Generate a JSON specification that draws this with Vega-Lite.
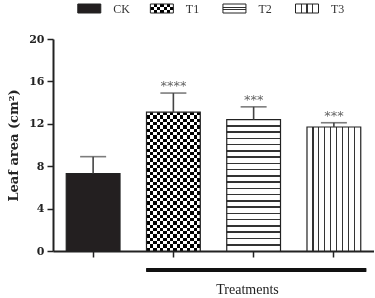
{
  "$schema": "https://vega.github.io/schema/vega-lite/v6.json",
  "background": "white",
  "padding": {"left": 7, "top": 2, "right": 0, "bottom": 0},
  "spacing": 18,
  "data": {"values": [
    {"group": "CK", "value": 7.3, "upper": 8.9, "sig": ""},
    {"group": "T1", "value": 13.1, "upper": 14.9, "sig": "****"},
    {"group": "T2", "value": 12.4, "upper": 13.6, "sig": "***"},
    {"group": "T3", "value": 11.7, "upper": 12.1, "sig": "***"}
  ]},
  "config": {"view": {"stroke": null}},
  "vconcat": [
    {
      "width": 321,
      "height": 9,
      "encoding": {
        "x": {"field": "group", "type": "nominal", "axis": null,
              "scale": {"domain": ["CK", "T1", "T2", "T3"], "paddingInner": 0, "paddingOuter": 0.2115, "align": 0}}
      },
      "layer": [
        {"transform": [{"filter": "datum.group == 'CK'"}],
         "mark": {"type": "bar", "width": 23, "fill": "#231f20", "strokeWidth": 0}},
        {"transform": [{"filter": "datum.group == 'T1'"}],
         "mark": {"type": "bar", "width": 23, "strokeWidth": 0, "fill": {"gradient": "linear", "x1": 0, "y1": 0, "x2": 1, "y2": 0, "stops": [
           {"offset": 0, "color": "#fff"}, {"offset": 0.1429, "color": "#fff"}, {"offset": 0.1429, "color": "#000"}, {"offset": 0.2857, "color": "#000"},
           {"offset": 0.2857, "color": "#fff"}, {"offset": 0.4286, "color": "#fff"}, {"offset": 0.4286, "color": "#000"}, {"offset": 0.5714, "color": "#000"},
           {"offset": 0.5714, "color": "#fff"}, {"offset": 0.7143, "color": "#fff"}, {"offset": 0.7143, "color": "#000"}, {"offset": 0.8571, "color": "#000"},
           {"offset": 0.8571, "color": "#fff"}, {"offset": 1, "color": "#fff"}]}}},
        {"transform": [{"filter": "datum.group == 'T1'"}],
         "mark": {"type": "bar", "width": 23, "strokeWidth": 0, "blend": "difference", "fill": {"gradient": "linear", "x1": 0, "y1": 0, "x2": 0, "y2": 1, "stops": [
           {"offset": 0, "color": "#000"}, {"offset": 0.3333, "color": "#000"}, {"offset": 0.3333, "color": "#fff"}, {"offset": 0.6667, "color": "#fff"},
           {"offset": 0.6667, "color": "#000"}, {"offset": 1, "color": "#000"}]}}},
        {"transform": [{"filter": "datum.group == 'T2'"}],
         "mark": {"type": "bar", "width": 23, "strokeWidth": 0, "fill": {"gradient": "linear", "x1": 0, "y1": 0, "x2": 0, "y2": 1, "stops": [
           {"offset": 0, "color": "#fff"}, {"offset": 0.32, "color": "#fff"}, {"offset": 0.32, "color": "#333"}, {"offset": 0.44, "color": "#333"},
           {"offset": 0.44, "color": "#fff"}, {"offset": 0.56, "color": "#fff"}, {"offset": 0.56, "color": "#333"}, {"offset": 0.68, "color": "#333"},
           {"offset": 0.68, "color": "#fff"}, {"offset": 1, "color": "#fff"}]}}},
        {"transform": [{"filter": "datum.group == 'T3'"}],
         "mark": {"type": "bar", "width": 23, "strokeWidth": 0, "fill": {"gradient": "linear", "x1": 0, "y1": 0, "x2": 1, "y2": 0, "stops": [
           {"offset": 0, "color": "#fff"}, {"offset": 0.225, "color": "#fff"}, {"offset": 0.225, "color": "#333"}, {"offset": 0.275, "color": "#333"},
           {"offset": 0.275, "color": "#fff"}, {"offset": 0.475, "color": "#fff"}, {"offset": 0.475, "color": "#333"}, {"offset": 0.525, "color": "#333"},
           {"offset": 0.525, "color": "#fff"}, {"offset": 0.725, "color": "#fff"}, {"offset": 0.725, "color": "#333"}, {"offset": 0.775, "color": "#333"},
           {"offset": 0.775, "color": "#fff"}, {"offset": 1, "color": "#fff"}]}}},
        {"mark": {"type": "bar", "width": 23, "fillOpacity": 0, "stroke": "#222", "strokeWidth": 1}},
        {"mark": {"type": "text", "align": "left", "baseline": "middle", "dx": 24, "font": "Liberation Serif", "fontSize": 12, "color": "#333"},
         "encoding": {"text": {"field": "group"}}}
      ]
    },
    {
      "width": 321,
      "height": 212,
      "encoding": {
        "x": {"field": "group", "type": "nominal",
              "scale": {"domain": ["CK", "T1", "T2", "T3"], "paddingInner": 0.33, "paddingOuter": 0.165},
              "axis": {"labels": false, "ticks": true, "tickSize": 6, "tickWidth": 1.5, "tickColor": "#222",
                       "domainWidth": 2, "domainColor": "#222", "title": "Treatments",
                       "titleFont": "Liberation Serif", "titleFontWeight": "normal", "titleFontSize": 14, "titleColor": "#222",
                       "titleX": 194, "titleY": 38, "titleBaseline": "middle", "titleAlign": "center", "titleAnchor": null}}
      },
      "layer": [
        {"transform": [{"filter": "datum.group == 'CK'"}],
         "mark": {"type": "bar", "fill": "#231f20", "strokeWidth": 0},
         "encoding": {"y": {"field": "value", "type": "quantitative",
           "scale": {"domain": [0, 20], "nice": false},
           "axis": {"values": [0, 2, 4, 6, 8, 10, 12, 14, 16, 18, 20], "labelExpr": "datum.value % 4 == 0 ? datum.label : ''",
                    "grid": false, "tickSize": 6, "tickWidth": 1.5, "tickColor": "#222", "domainWidth": 2, "domainColor": "#222",
                    "labelFont": "DejaVu Serif", "labelFontWeight": "bold", "labelFontSize": 11, "labelColor": "#222", "labelPadding": 3,
                    "title": "Leaf area (cm²)", "titleFont": "DejaVu Serif", "titleFontWeight": "bold", "titleFontSize": 13,
                    "titleColor": "#222", "titlePadding": 8}}}},
        {"transform": [{"filter": "datum.group == 'T1'"}],
         "mark": {"type": "bar", "strokeWidth": 0, "fill": {"gradient": "linear", "x1": 0, "y1": 0, "x2": 1, "y2": 0, "stops": [
           {"offset": 0, "color": "#fff"}, {"offset": 0.0625, "color": "#fff"}, {"offset": 0.0625, "color": "#000"}, {"offset": 0.125, "color": "#000"},
           {"offset": 0.125, "color": "#fff"}, {"offset": 0.1875, "color": "#fff"}, {"offset": 0.1875, "color": "#000"}, {"offset": 0.25, "color": "#000"},
           {"offset": 0.25, "color": "#fff"}, {"offset": 0.3125, "color": "#fff"}, {"offset": 0.3125, "color": "#000"}, {"offset": 0.375, "color": "#000"},
           {"offset": 0.375, "color": "#fff"}, {"offset": 0.4375, "color": "#fff"}, {"offset": 0.4375, "color": "#000"}, {"offset": 0.5, "color": "#000"},
           {"offset": 0.5, "color": "#fff"}, {"offset": 0.5625, "color": "#fff"}, {"offset": 0.5625, "color": "#000"}, {"offset": 0.625, "color": "#000"},
           {"offset": 0.625, "color": "#fff"}, {"offset": 0.6875, "color": "#fff"}, {"offset": 0.6875, "color": "#000"}, {"offset": 0.75, "color": "#000"},
           {"offset": 0.75, "color": "#fff"}, {"offset": 0.8125, "color": "#fff"}, {"offset": 0.8125, "color": "#000"}, {"offset": 0.875, "color": "#000"},
           {"offset": 0.875, "color": "#fff"}, {"offset": 0.9375, "color": "#fff"}, {"offset": 0.9375, "color": "#000"}, {"offset": 1, "color": "#000"}]}},
         "encoding": {"y": {"field": "value", "type": "quantitative"}}},
        {"transform": [{"filter": "datum.group == 'T1'"}],
         "mark": {"type": "bar", "strokeWidth": 0, "blend": "difference", "fill": {"gradient": "linear", "x1": 0, "y1": 0, "x2": 0, "y2": 1, "stops": [
           {"offset": 0, "color": "#000"}, {"offset": 0.0238, "color": "#000"}, {"offset": 0.0238, "color": "#fff"}, {"offset": 0.0476, "color": "#fff"},
           {"offset": 0.0476, "color": "#000"}, {"offset": 0.0714, "color": "#000"}, {"offset": 0.0714, "color": "#fff"}, {"offset": 0.0952, "color": "#fff"},
           {"offset": 0.0952, "color": "#000"}, {"offset": 0.1190, "color": "#000"}, {"offset": 0.1190, "color": "#fff"}, {"offset": 0.1429, "color": "#fff"},
           {"offset": 0.1429, "color": "#000"}, {"offset": 0.1667, "color": "#000"}, {"offset": 0.1667, "color": "#fff"}, {"offset": 0.1905, "color": "#fff"},
           {"offset": 0.1905, "color": "#000"}, {"offset": 0.2143, "color": "#000"}, {"offset": 0.2143, "color": "#fff"}, {"offset": 0.2381, "color": "#fff"},
           {"offset": 0.2381, "color": "#000"}, {"offset": 0.2619, "color": "#000"}, {"offset": 0.2619, "color": "#fff"}, {"offset": 0.2857, "color": "#fff"},
           {"offset": 0.2857, "color": "#000"}, {"offset": 0.3095, "color": "#000"}, {"offset": 0.3095, "color": "#fff"}, {"offset": 0.3333, "color": "#fff"},
           {"offset": 0.3333, "color": "#000"}, {"offset": 0.3571, "color": "#000"}, {"offset": 0.3571, "color": "#fff"}, {"offset": 0.3810, "color": "#fff"},
           {"offset": 0.3810, "color": "#000"}, {"offset": 0.4048, "color": "#000"}, {"offset": 0.4048, "color": "#fff"}, {"offset": 0.4286, "color": "#fff"},
           {"offset": 0.4286, "color": "#000"}, {"offset": 0.4524, "color": "#000"}, {"offset": 0.4524, "color": "#fff"}, {"offset": 0.4762, "color": "#fff"},
           {"offset": 0.4762, "color": "#000"}, {"offset": 0.5, "color": "#000"}, {"offset": 0.5, "color": "#fff"}, {"offset": 0.5238, "color": "#fff"},
           {"offset": 0.5238, "color": "#000"}, {"offset": 0.5476, "color": "#000"}, {"offset": 0.5476, "color": "#fff"}, {"offset": 0.5714, "color": "#fff"},
           {"offset": 0.5714, "color": "#000"}, {"offset": 0.5952, "color": "#000"}, {"offset": 0.5952, "color": "#fff"}, {"offset": 0.6190, "color": "#fff"},
           {"offset": 0.6190, "color": "#000"}, {"offset": 0.6429, "color": "#000"}, {"offset": 0.6429, "color": "#fff"}, {"offset": 0.6667, "color": "#fff"},
           {"offset": 0.6667, "color": "#000"}, {"offset": 0.6905, "color": "#000"}, {"offset": 0.6905, "color": "#fff"}, {"offset": 0.7143, "color": "#fff"},
           {"offset": 0.7143, "color": "#000"}, {"offset": 0.7381, "color": "#000"}, {"offset": 0.7381, "color": "#fff"}, {"offset": 0.7619, "color": "#fff"},
           {"offset": 0.7619, "color": "#000"}, {"offset": 0.7857, "color": "#000"}, {"offset": 0.7857, "color": "#fff"}, {"offset": 0.8095, "color": "#fff"},
           {"offset": 0.8095, "color": "#000"}, {"offset": 0.8333, "color": "#000"}, {"offset": 0.8333, "color": "#fff"}, {"offset": 0.8571, "color": "#fff"},
           {"offset": 0.8571, "color": "#000"}, {"offset": 0.8810, "color": "#000"}, {"offset": 0.8810, "color": "#fff"}, {"offset": 0.9048, "color": "#fff"},
           {"offset": 0.9048, "color": "#000"}, {"offset": 0.9286, "color": "#000"}, {"offset": 0.9286, "color": "#fff"}, {"offset": 0.9524, "color": "#fff"},
           {"offset": 0.9524, "color": "#000"}, {"offset": 0.9762, "color": "#000"}, {"offset": 0.9762, "color": "#fff"}, {"offset": 1, "color": "#fff"}]}},
         "encoding": {"y": {"field": "value", "type": "quantitative"}}},
        {"transform": [{"filter": "datum.group == 'T2'"}],
         "mark": {"type": "bar", "strokeWidth": 0, "fill": {"gradient": "linear", "x1": 0, "y1": 0, "x2": 0, "y2": 1, "stops": [
           {"offset": 0, "color": "#fff"},
           {"offset": 0.0416, "color": "#fff"}, {"offset": 0.0416, "color": "#333"}, {"offset": 0.0536, "color": "#333"}, {"offset": 0.0536, "color": "#fff"},
           {"offset": 0.0892, "color": "#fff"}, {"offset": 0.0892, "color": "#333"}, {"offset": 0.1012, "color": "#333"}, {"offset": 0.1012, "color": "#fff"},
           {"offset": 0.1369, "color": "#fff"}, {"offset": 0.1369, "color": "#333"}, {"offset": 0.1489, "color": "#333"}, {"offset": 0.1489, "color": "#fff"},
           {"offset": 0.1845, "color": "#fff"}, {"offset": 0.1845, "color": "#333"}, {"offset": 0.1965, "color": "#333"}, {"offset": 0.1965, "color": "#fff"},
           {"offset": 0.2321, "color": "#fff"}, {"offset": 0.2321, "color": "#333"}, {"offset": 0.2441, "color": "#333"}, {"offset": 0.2441, "color": "#fff"},
           {"offset": 0.2797, "color": "#fff"}, {"offset": 0.2797, "color": "#333"}, {"offset": 0.2917, "color": "#333"}, {"offset": 0.2917, "color": "#fff"},
           {"offset": 0.3273, "color": "#fff"}, {"offset": 0.3273, "color": "#333"}, {"offset": 0.3393, "color": "#333"}, {"offset": 0.3393, "color": "#fff"},
           {"offset": 0.3750, "color": "#fff"}, {"offset": 0.3750, "color": "#333"}, {"offset": 0.3870, "color": "#333"}, {"offset": 0.3870, "color": "#fff"},
           {"offset": 0.4226, "color": "#fff"}, {"offset": 0.4226, "color": "#333"}, {"offset": 0.4346, "color": "#333"}, {"offset": 0.4346, "color": "#fff"},
           {"offset": 0.4702, "color": "#fff"}, {"offset": 0.4702, "color": "#333"}, {"offset": 0.4822, "color": "#333"}, {"offset": 0.4822, "color": "#fff"},
           {"offset": 0.5178, "color": "#fff"}, {"offset": 0.5178, "color": "#333"}, {"offset": 0.5298, "color": "#333"}, {"offset": 0.5298, "color": "#fff"},
           {"offset": 0.5654, "color": "#fff"}, {"offset": 0.5654, "color": "#333"}, {"offset": 0.5774, "color": "#333"}, {"offset": 0.5774, "color": "#fff"},
           {"offset": 0.6130, "color": "#fff"}, {"offset": 0.6130, "color": "#333"}, {"offset": 0.6250, "color": "#333"}, {"offset": 0.6250, "color": "#fff"},
           {"offset": 0.6607, "color": "#fff"}, {"offset": 0.6607, "color": "#333"}, {"offset": 0.6727, "color": "#333"}, {"offset": 0.6727, "color": "#fff"},
           {"offset": 0.7083, "color": "#fff"}, {"offset": 0.7083, "color": "#333"}, {"offset": 0.7203, "color": "#333"}, {"offset": 0.7203, "color": "#fff"},
           {"offset": 0.7559, "color": "#fff"}, {"offset": 0.7559, "color": "#333"}, {"offset": 0.7679, "color": "#333"}, {"offset": 0.7679, "color": "#fff"},
           {"offset": 0.8035, "color": "#fff"}, {"offset": 0.8035, "color": "#333"}, {"offset": 0.8155, "color": "#333"}, {"offset": 0.8155, "color": "#fff"},
           {"offset": 0.8511, "color": "#fff"}, {"offset": 0.8511, "color": "#333"}, {"offset": 0.8631, "color": "#333"}, {"offset": 0.8631, "color": "#fff"},
           {"offset": 0.8988, "color": "#fff"}, {"offset": 0.8988, "color": "#333"}, {"offset": 0.9108, "color": "#333"}, {"offset": 0.9108, "color": "#fff"},
           {"offset": 0.9464, "color": "#fff"}, {"offset": 0.9464, "color": "#333"}, {"offset": 0.9584, "color": "#333"}, {"offset": 0.9584, "color": "#fff"},
           {"offset": 1, "color": "#fff"}]}},
         "encoding": {"y": {"field": "value", "type": "quantitative"}}},
        {"transform": [{"filter": "datum.group == 'T3'"}],
         "mark": {"type": "bar", "strokeWidth": 0, "fill": {"gradient": "linear", "x1": 0, "y1": 0, "x2": 1, "y2": 0, "stops": [
           {"offset": 0, "color": "#fff"},
           {"offset": 0.1011, "color": "#fff"}, {"offset": 0.1011, "color": "#333"}, {"offset": 0.1211, "color": "#333"}, {"offset": 0.1211, "color": "#fff"},
           {"offset": 0.2122, "color": "#fff"}, {"offset": 0.2122, "color": "#333"}, {"offset": 0.2322, "color": "#333"}, {"offset": 0.2322, "color": "#fff"},
           {"offset": 0.3233, "color": "#fff"}, {"offset": 0.3233, "color": "#333"}, {"offset": 0.3433, "color": "#333"}, {"offset": 0.3433, "color": "#fff"},
           {"offset": 0.4344, "color": "#fff"}, {"offset": 0.4344, "color": "#333"}, {"offset": 0.4544, "color": "#333"}, {"offset": 0.4544, "color": "#fff"},
           {"offset": 0.5456, "color": "#fff"}, {"offset": 0.5456, "color": "#333"}, {"offset": 0.5656, "color": "#333"}, {"offset": 0.5656, "color": "#fff"},
           {"offset": 0.6567, "color": "#fff"}, {"offset": 0.6567, "color": "#333"}, {"offset": 0.6767, "color": "#333"}, {"offset": 0.6767, "color": "#fff"},
           {"offset": 0.7678, "color": "#fff"}, {"offset": 0.7678, "color": "#333"}, {"offset": 0.7878, "color": "#333"}, {"offset": 0.7878, "color": "#fff"},
           {"offset": 0.8789, "color": "#fff"}, {"offset": 0.8789, "color": "#333"}, {"offset": 0.8989, "color": "#333"}, {"offset": 0.8989, "color": "#fff"},
           {"offset": 1, "color": "#fff"}]}},
         "encoding": {"y": {"field": "value", "type": "quantitative"}}},
        {"mark": {"type": "bar", "fillOpacity": 0, "stroke": "#222", "strokeWidth": 1.2},
         "encoding": {"y": {"field": "value", "type": "quantitative"}}},
        {"mark": {"type": "rule", "color": "#444", "strokeWidth": 1.6},
         "encoding": {"y": {"field": "value", "type": "quantitative"}, "y2": {"field": "upper"}}},
        {"mark": {"type": "tick", "color": "#444", "thickness": 1.6, "size": 26},
         "encoding": {"y": {"field": "upper", "type": "quantitative"}}},
        {"mark": {"type": "text", "font": "DejaVu Sans", "fontSize": 13, "color": "#666", "baseline": "alphabetic", "dy": -3},
         "encoding": {"y": {"field": "upper", "type": "quantitative"}, "text": {"field": "sig"}}},
        {"mark": {"type": "rule", "color": "#111", "strokeWidth": 3.5},
         "encoding": {
           "x": {"datum": "T1", "type": "nominal", "bandPosition": 0},
           "x2": {"datum": "T3", "bandPosition": 1.1},
           "y": {"datum": -1.8, "type": "quantitative"}}}
      ]
    }
  ]
}
